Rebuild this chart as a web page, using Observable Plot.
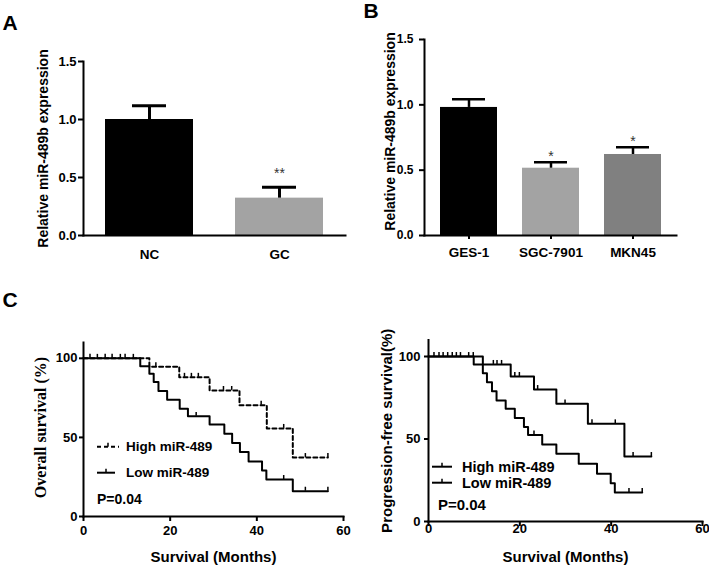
<!DOCTYPE html>
<html><head><meta charset="utf-8">
<script src="https://cdn.jsdelivr.net/npm/d3@7"></script>
<script src="https://cdn.jsdelivr.net/npm/@observablehq/plot@0.6"></script>
<style>
html,body{margin:0;padding:0;background:#fff;}
#root{position:relative;width:709px;height:567px;overflow:hidden;}
#root > svg{position:absolute;}
</style></head><body><div id="root"></div>
<script>
// ---------- Panel A data ----------
const catsA = ["NC", "GC"];
const meanA = [1.00, 0.322];
const errA = [0.118, 0.094];
const starsA = ["", "**"];
const colorsA = ["#000000", "#a3a3a3"];
// ---------- Panel B data ----------
const catsB = ["GES-1", "SGC-7901", "MKN45"];
const meanB = [0.98, 0.515, 0.62];
const errB = [0.062, 0.045, 0.055];
const starsB = ["", "*", "*"];
const colorsB = ["#000000", "#a3a3a3", "#808080"];
const barTicks = [0, 0.5, 1.0, 1.5];
const barYLabel = "Relative miR-489b expression";
// ---------- Panel C (overall survival) ----------
const osHighT = [0, 15.2, 22.1, 29.1, 36.0, 42.3, 48.3, 56.4];
const osHighS = [100, 94.7, 88.0, 79.7, 70.3, 55.7, 37.3, 37.3];
const osHighCensor = [16.7, 23.3, 24.9, 26.5, 32.3, 34.2, 41.0, 46.2, 51.2, 56.4];
const osLowT = [0, 13.1, 15.2, 16.2, 17.3, 19.3, 22.2, 24.1, 29.1, 32.5, 34.3, 36.1, 38.1, 41.2, 42.2, 48.3, 56.4];
const osLowS = [100, 95.0, 90.3, 85.0, 79.3, 73.8, 68.1, 63.3, 58.2, 52.3, 46.4, 40.7, 34.8, 29.1, 23.4, 16.0, 16.0];
const osLowCensor = [1.5, 3.2, 5.0, 6.6, 8.5, 9.6, 11.5, 26.0, 46.2, 51.2, 56.4];
// ---------- Panel C (progression-free survival) ----------
const pfsHighT = [0, 9.9, 18.0, 23.1, 28.0, 34.9, 42.9, 48.8];
const pfsHighS = [100, 95.2, 87.9, 80.0, 71.3, 59.2, 39.4, 39.4];
const pfsHighCensor = [14.2, 15.0, 16.0, 18.9, 19.9, 23.9, 29.9, 35.8, 40.9, 44.8, 48.8];
const pfsLowT = [0, 11.9, 12.8, 13.9, 14.9, 16.9, 18.9, 20.9, 21.8, 24.9, 28.0, 32.9, 36.9, 39.9, 40.8, 46.8];
const pfsLowS = [100, 89.9, 84.4, 79.0, 73.3, 68.3, 62.8, 57.2, 52.5, 46.7, 41.0, 35.0, 29.0, 23.2, 17.6, 17.6];
const pfsLowCensor = [1.2, 2.3, 3.2, 4.2, 5.2, 6.1, 7.0, 8.8, 9.8, 23.1, 43.9, 46.8];
const kmTicksX = [0, 20, 40, 60];
const kmTicksY = [0, 50, 100];
const legendLabels = ["High miR-489", "Low miR-489"];
const pValueText = "P=0.04";
const osYLabel = "Overall survival (%)";
const pfsYLabel = "Progression-free survival(%)";
const kmXLabel = "Survival (Months)";

const SANS = '"Liberation Sans", Arial, sans-serif';
const SERIF = '"Liberation Serif", "Times New Roman", serif';
const root = document.getElementById("root");

function place(svg, left, top) {
  svg.style.position = "absolute";
  svg.style.left = left + "px";
  svg.style.top = top + "px";
  root.appendChild(svg);
}

function barPanel(o) {
  const data = o.cats.map((c, i) => ({cat: c, mean: o.mean[i], err: o.err[i], star: o.stars[i], color: o.colors[i]}));
  return Plot.plot({
    width: o.width, height: o.height,
    marginLeft: o.ml, marginRight: o.mr, marginTop: o.mt, marginBottom: o.mb,
    x: {domain: o.cats, paddingInner: o.pi, paddingOuter: o.po, axis: null},
    y: {domain: [0, 1.5], axis: null},
    color: {type: "identity"},
    style: {fontFamily: SANS, fontWeight: "bold", fontSize: "13px", color: "black", background: "transparent", overflow: "visible"},
    marks: [
      Plot.barY(data, {x: "cat", y: "mean", fill: "color"}),
      Plot.ruleX(data, {x: "cat", y1: "mean", y2: d => d.mean + d.err, stroke: "black", strokeWidth: o.ew}),
      Plot.tickY(data, {x: "cat", y: d => d.mean + d.err, stroke: "black", strokeWidth: o.ew, insetLeft: o.capInset, insetRight: o.capInset}),
      Plot.text(data, {x: "cat", y: d => d.mean + d.err, text: "star", dy: o.starDy, fontSize: 14, fontWeight: "normal", fill: "#333"}),
      Plot.axisY({ticks: barTicks, tickFormat: d3.format(".1f"), tickSize: 5, tickPadding: o.yPad, strokeWidth: 2, fontSize: o.yFont, label: null}),
      Plot.axisX({tickSize: o.xTick, tickPadding: o.xPad, strokeWidth: 2, fontSize: o.xFont, label: null}),
      Plot.frame({anchor: "left", strokeWidth: 2}),
      Plot.frame({anchor: "bottom", strokeWidth: 2}),
      Plot.text([o.ylabel], {frameAnchor: "left", text: d => d, rotate: -90, textAnchor: "middle", lineAnchor: "middle", dx: o.ylDx, dy: o.ylDy, fontSize: 14}),
      Plot.text([o.letter], {frameAnchor: "top-left", text: d => d, textAnchor: "start", lineAnchor: "middle", dx: o.lDx, dy: o.lDy, fontSize: 21})
    ]
  });
}

function sAt(ts, ss, t) { let s = ss[0]; for (let i = 0; i < ts.length; i++) if (ts[i] <= t) s = ss[i]; return s; }
function rows(ts, ss) { return ts.map((t, i) => ({t, s: ss[i]})); }
function censors(ts, ss, cs) { return cs.map(t => ({t, s: sAt(ts, ss, t)})); }

function legendMark(spec) {
  return () => {
    const g = d3.create("svg:g").attr("text-anchor", "start");
    spec.items.forEach(it => {
      g.append("line").attr("x1", it.x1).attr("x2", it.x2).attr("y1", it.y).attr("y2", it.y)
        .attr("stroke", "black").attr("stroke-width", 2).attr("stroke-dasharray", it.dash || null);
      const cx = (it.x1 + it.x2) / 2;
      g.append("line").attr("x1", cx).attr("x2", cx).attr("y1", it.y).attr("y2", it.y - 4)
        .attr("stroke", "black").attr("stroke-width", 1.5);
      g.append("text").attr("x", it.tx).attr("y", it.y).attr("dy", "0.35em").attr("text-anchor", "start")
        .attr("font-size", spec.fontSize).attr("fill", "black").text(it.label);
    });
    g.append("text").attr("x", spec.px).attr("y", spec.py).attr("dy", "0.35em").attr("text-anchor", "start")
      .attr("font-size", spec.pSize).attr("fill", "black").text(pValueText);
    return g.node();
  };
}

function kmPanel(o) {
  const cens = censors(o.hT, o.hS, o.hC).concat(censors(o.lT, o.lS, o.lC));
  return Plot.plot({
    width: o.width, height: o.height,
    marginLeft: o.ml, marginRight: o.mr, marginTop: o.mt, marginBottom: o.mb,
    x: {domain: [0, 60], axis: null},
    y: {domain: [0, 110], axis: null},
    style: {fontFamily: SANS, fontWeight: "bold", fontSize: "13px", color: "black", background: "transparent", overflow: "visible"},
    marks: [
      Plot.line(rows(o.lT, o.lS), {x: "t", y: "s", curve: "step-after", stroke: "black", strokeWidth: 2}),
      Plot.line(rows(o.hT, o.hS), {x: "t", y: "s", curve: "step-after", stroke: "black", strokeWidth: 2, strokeDasharray: o.dash}),
      Plot.ruleX(cens, {x: "t", y1: "s", y2: d => d.s + o.cLen, stroke: "black", strokeWidth: 1.5}),
      Plot.axisY({ticks: kmTicksY, tickSize: 4, tickPadding: o.yPad, strokeWidth: 2, fontSize: 13, label: null}),
      Plot.axisX({ticks: kmTicksX, tickSize: 5, tickPadding: o.xPad, strokeWidth: 2, fontSize: 13, label: null}),
      Plot.frame({anchor: "left", strokeWidth: 2}),
      Plot.frame({anchor: "bottom", strokeWidth: 2}),
      Plot.text([o.ylabel], {frameAnchor: "left", text: d => d, rotate: -90, textAnchor: "middle", lineAnchor: "middle", dx: o.ylDx, dy: o.ylDy, fontSize: o.ylSize, fontFamily: o.ylFamily}),
      Plot.text([kmXLabel], {frameAnchor: "bottom", text: d => d, textAnchor: "middle", lineAnchor: "middle", dy: o.xlDy, fontSize: 15}),
      o.letter ? Plot.text([o.letter], {frameAnchor: "top-left", text: d => d, textAnchor: "start", lineAnchor: "middle", dx: o.lDx, dy: o.lDy, fontSize: 21}) : null,
      legendMark(o.legend)
    ]
  });
}

place(barPanel({
  cats: catsA, mean: meanA, err: errA, stars: starsA, colors: colorsA,
  width: 355, height: 290, ml: 83, mr: 10, mt: 61, mb: 55, pi: 0.32, po: 0.164,
  ew: 3, capInset: 27, starDy: -13.5, yPad: 2, yFont: 13, xTick: 0, xPad: 14, xFont: 13.5,
  ylabel: barYLabel, ylDx: -40, ylDy: 0, letter: "A", lDx: -81, lDy: -38.5
}), 0, 0);

place(barPanel({
  cats: catsB, mean: meanB, err: errB, stars: starsB, colors: colorsB,
  width: 354, height: 290, ml: 69, mr: 33, mt: 39, mb: 55, pi: 0.31, po: 0.18,
  ew: 2.5, capInset: 12, starDy: -5.5, yPad: 6, yFont: 12, xTick: 4, xPad: 8, xFont: 13.5,
  ylabel: barYLabel, ylDx: -34, ylDy: -6, letter: "B", lDx: -61, lDy: -28.5
}), 355, 0);

place(kmPanel({
  hT: osHighT, hS: osHighS, hC: osHighCensor, lT: osLowT, lS: osLowS, lC: osLowCensor,
  width: 355, height: 277, ml: 83, mr: 12, mt: 52, mb: 51, dash: "4,3", cLen: 2.5,
  yPad: 2, xPad: 4, ylabel: osYLabel, ylDx: -43, ylDy: -2, ylSize: 16, ylFamily: SERIF, xlDy: 41,
  letter: "C", lDx: -81, lDy: -42.5,
  legend: {fontSize: 13.5, pSize: 14, px: 97, py: 209,
    items: [
      {x1: 97, x2: 119, y: 156.7, tx: 126, label: legendLabels[0], dash: "4,3"},
      {x1: 97, x2: 115, y: 182.7, tx: 126, label: legendLabels[1]}
    ]}
}), 0, 290);

place(kmPanel({
  hT: pfsHighT, hS: pfsHighS, hC: pfsHighCensor, lT: pfsLowT, lS: pfsLowS, lC: pfsLowCensor,
  width: 354, height: 277, ml: 73, mr: 7, mt: 49.5, mb: 46, dash: null, cLen: 2.4,
  yPad: 4, xPad: -3, ylabel: pfsYLabel, ylDx: -41, ylDy: 0, ylSize: 15, ylFamily: SANS, xlDy: 36,
  letter: null,
  legend: {fontSize: 14.5, pSize: 15, px: 83, py: 215,
    items: [
      {x1: 77, x2: 97, y: 176.7, tx: 107, label: legendLabels[0]},
      {x1: 77, x2: 97, y: 192.7, tx: 107, label: legendLabels[1]}
    ]}
}), 355, 290);
</script>
</body></html>
